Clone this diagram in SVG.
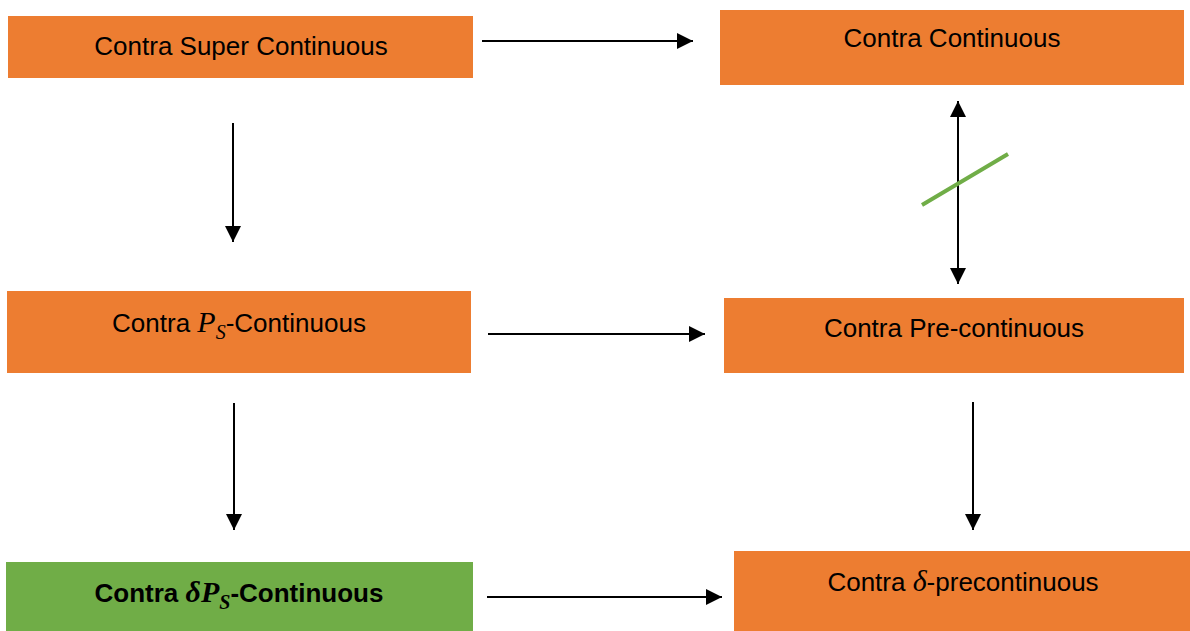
<svg xmlns="http://www.w3.org/2000/svg" width="1190" height="631" viewBox="0 0 1190 631">
<style>
.box{fill:#ed7d31}
.green{fill:#70ad47}
.t{font-family:"Liberation Sans",Arial,sans-serif;font-size:26px;fill:#000;text-anchor:middle}
.b{font-weight:bold}
.m{font-family:"Liberation Serif","Times New Roman",serif;font-style:italic}
.c{stroke:#000;stroke-width:2;fill:none}
</style>
<defs>
<marker id="ahL" viewBox="0 0 10 10" refX="10" refY="5" markerWidth="16" markerHeight="16" markerUnits="userSpaceOnUse" orient="auto-start-reverse">
<path d="M0,0 L10,5 L0,10 z" fill="#000"/>
</marker>
</defs>
<rect width="1190" height="631" fill="#fff"/>
<g id="n1"><rect class="box" x="8" y="16" width="465" height="62"/><text class="t" x="241" y="55">Contra Super Continuous</text></g>
<g id="n2"><rect class="box" x="720" y="10" width="464" height="75"/><text class="t" x="952" y="47">Contra Continuous</text></g>
<g id="n3"><rect class="box" x="7" y="291" width="464" height="82"/><text class="t" x="239" y="332">Contra <tspan class="m" font-size="30">P</tspan><tspan class="m" font-size="20" dy="7">S</tspan><tspan dy="-7">-Continuous</tspan></text></g>
<g id="n4"><rect class="box" x="724" y="298" width="460" height="75"/><text class="t" x="954" y="337">Contra Pre-continuous</text></g>
<g id="n5"><rect class="green" x="6" y="562" width="467" height="69"/><text class="t b" x="239" y="602">Contra <tspan class="m" font-weight="bold" font-size="30">δP</tspan><tspan class="m" font-weight="bold" font-size="20" dy="7">S</tspan><tspan dy="-7">-Continuous</tspan></text></g>
<g id="n6"><rect class="box" x="734" y="551" width="456" height="80"/><text class="t" x="963" y="591">Contra <tspan class="m" font-size="30">δ</tspan>-precontinuous</text></g>
<g id="connectors">
<line class="c" x1="482" y1="41" x2="693" y2="41" marker-end="url(#ahL)"/>
<line class="c" x1="233" y1="123" x2="233" y2="242" marker-end="url(#ahL)"/>
<line class="c" x1="958" y1="101" x2="958" y2="284" marker-start="url(#ahL)" marker-end="url(#ahL)"/>
<line x1="922" y1="205" x2="1008" y2="154" stroke="#70ad47" stroke-width="4"/>
<line class="c" x1="488" y1="334" x2="705" y2="334" marker-end="url(#ahL)"/>
<line class="c" x1="234" y1="403" x2="234" y2="530" marker-end="url(#ahL)"/>
<line class="c" x1="973" y1="402" x2="973" y2="530" marker-end="url(#ahL)"/>
<line class="c" x1="487" y1="597" x2="722" y2="597" marker-end="url(#ahL)"/>
</g>
</svg>
